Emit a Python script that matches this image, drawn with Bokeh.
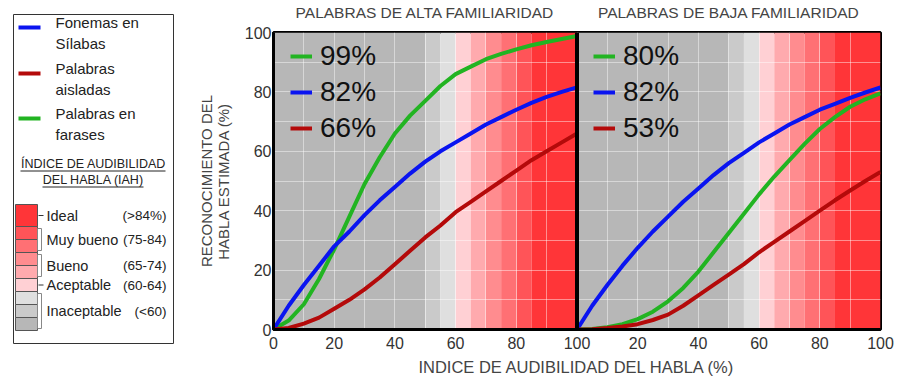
import numpy as np
from bokeh.plotting import figure
from bokeh.layouts import row
from bokeh.models import (Range1d, FixedTicker, Legend, LegendItem, Span, LinearAxis,
                          ColumnDataSource)
from bokeh.core.properties import value
from bokeh.embed import file_html
from bokeh.resources import INLINE

FONT = "Liberation Sans"

# ---------------- data ----------------
iah = [0, 5, 10, 15, 20, 25, 30, 35, 40, 45, 50, 55, 60, 65, 70, 75, 80, 85, 90, 95, 100]

# Palabras de alta familiaridad
alta_frases = [0, 3, 8.5, 17, 27, 38, 49, 58, 66, 72, 77, 82, 86, 88.5, 91, 92.8, 94.3, 95.7, 96.8, 97.8, 98.8]
alta_fonemas = [0, 8, 15, 21.5, 28, 33, 38.5, 43.5, 48, 52.5, 56.5, 60, 63, 66, 69, 71.5, 74, 76.3, 78.3, 80, 81.5]
alta_aisladas = [0, 0.5, 2, 4, 7, 10, 13.5, 17.5, 22, 26.5, 31, 35, 39.5, 43, 46.5, 50, 53.5, 57, 60, 63, 66]

# Palabras de baja familiaridad
baja_frases = [0, 0.2, 0.8, 1.8, 3.5, 6, 9.5, 14, 19.5, 26, 32.5, 39, 45.5, 51.5, 57, 62.5, 67.5, 71.5, 75, 77.5, 79.5]
baja_fonemas = [0, 8, 15, 21.5, 27.5, 33, 38, 43, 47.5, 52, 56, 59.5, 63, 66, 69, 71.5, 74, 76, 78, 79.8, 81.5]
baja_aisladas = [0, 0.1, 0.5, 1, 1.8, 3.2, 5, 8, 11.5, 15, 18.5, 22, 26, 29.5, 33, 36.5, 40, 43.5, 46.8, 50, 53]

# final values shown in each panel (green, blue, red)
alta_final = ["99%", "82%", "66%"]
baja_final = ["80%", "82%", "53%"]

panel_titles = ["PALABRAS DE ALTA FAMILIARIDAD", "PALABRAS DE BAJA FAMILIARIDAD"]

series_labels = [["Fonemas en", "Sílabas"], ["Palabras", "aisladas"], ["Palabras en", "farases"]]
series_colors = ["#0a14f0", "#b40a0a", "#22b422"]   # fonemas, aisladas, frases

band_edges = [0, 50, 55, 60, 65, 70, 75, 80, 85, 100]
band_colors = ["#b7b7b7", "#cacaca", "#dfdfdf", "#ffd0d4", "#ffaaae", "#ff8c8f",
               "#ff7074", "#ff5458", "#ff3538"]

iah_title = ["ÍNDICE DE AUDIBILIDAD", "DEL HABLA (IAH)"]
# categories from bottom to top, with number of bands each covers
iah_names = ["Inaceptable", "Aceptable", "Bueno", "Muy bueno", "Ideal"]
iah_ranges = ["(<60)", "(60-64)", "(65-74)", "(75-84)", "(>84%)"]
iah_band_count = [3, 1, 2, 2, 1]

x_ticks = [0, 20, 40, 60, 80, 100]
y_ticks = [0, 20, 40, 60, 80, 100]
grid_step = 10

x_label = "INDICE DE AUDIBILIDAD DEL HABLA (%)"
y_label = "RECONOCIMIENTO DEL\nHABLA ESTIMADA (%)"

# ---------------- layout geometry (pixels) ----------------
W, H = 900, 384
LW = 180                             # width of the side legend figure
FL, FR, FT, FB = 273, 880, 31, 328   # frame edges in page pixels

# ---------------- main figure (both panels) ----------------
p = figure(frame_width=FR - FL, frame_height=FB - FT,
           x_range=Range1d(0, 200), y_range=Range1d(0, 100),
           output_backend="svg", toolbar_location=None,
           min_border_left=FL - LW, min_border_right=W - FR, min_border_top=FT,
           min_border_bottom=H - FB)
p.title = None
p.background_fill_color = "white"

offsets = [0, 100]
edges = np.array(band_edges, dtype=float)
for off in offsets:
    p.quad(left=edges[:-1] + off, right=edges[1:] + off, bottom=0, top=100,
           fill_color=band_colors, line_color=None, level="image")

p.xgrid.ticker = FixedTicker(ticks=list(np.arange(0, 201, grid_step)))
p.ygrid.ticker = FixedTicker(ticks=list(np.arange(0, 101, grid_step)))
p.grid.grid_line_color = "white"
p.grid.grid_line_alpha = 0.45
p.grid.grid_line_width = 1

xt = x_ticks + [t + 100 for t in x_ticks[1:]]
p.xaxis.ticker = FixedTicker(ticks=xt)
overrides = {t: str(t) for t in x_ticks}
overrides.update({t + 100: str(t) for t in x_ticks[1:]})
p.xaxis.major_label_overrides = overrides
p.yaxis.ticker = FixedTicker(ticks=y_ticks)

for ax in (p.xaxis[0], p.yaxis[0]):
    ax.axis_line_width = 3
    ax.axis_line_color = "black"
    ax.major_tick_line_color = None
    ax.minor_tick_line_color = None
    ax.major_tick_out = 0
    ax.major_tick_in = 0
    ax.minor_tick_out = 0
    ax.minor_tick_in = 0
    ax.major_label_text_font = FONT
    ax.major_label_text_font_size = "16px"
    ax.major_label_text_color = "#333333"
    ax.axis_label_text_font = FONT
    ax.axis_label_text_font_style = "normal"
    ax.axis_label_text_color = "#444444"
p.xaxis.major_label_standoff = 7
p.xaxis.axis_label = x_label
p.xaxis.axis_label_text_font_size = "16.5px"
p.xaxis.axis_label_standoff = 6
p.yaxis.major_label_standoff = 2
p.yaxis.axis_label = y_label
p.yaxis.axis_label_text_font_size = "15px"
p.yaxis.axis_label_text_line_height = 1.0
p.yaxis.axis_label_standoff = 10

# panel titles as an axis above the frame, one label per panel centre
title_axis = LinearAxis(ticker=FixedTicker(ticks=[50 + o for o in offsets]),
                        major_label_overrides={50 + o: t for o, t in zip(offsets, panel_titles)},
                        axis_line_color=None, major_tick_line_color=None,
                        minor_tick_line_color=None, major_tick_out=0, major_tick_in=0,
                        minor_tick_out=0, minor_tick_in=0, major_label_standoff=12,
                        major_label_text_font=FONT, major_label_text_font_size="15.5px",
                        major_label_text_color="#444444")
p.add_layout(title_axis, "above")

p.outline_line_color = "black"
p.outline_line_width = 3
p.outline_line_alpha = 1

p.add_layout(Span(location=100, dimension="height", line_color="black", line_width=4))

panels = [
    (0, [alta_frases, alta_fonemas, alta_aisladas], alta_final, 17),
    (100, [baja_frases, baja_fonemas, baja_aisladas], baja_final, 320),
]
color_order = [series_colors[2], series_colors[0], series_colors[1]]
x_arr = np.array(iah, dtype=float)
for off, series, finals, lx in panels:
    rs = []
    for vals, col in zip(series, color_order):
        rs.append(p.line(x_arr + off, vals, line_color=col, line_width=4))
    lg = Legend(items=[LegendItem(label=f, renderers=[r]) for f, r in zip(finals, rs)],
                location=(lx, 185), label_text_font=FONT, label_text_font_size="28px",
                label_text_color="#111111", glyph_width=22, glyph_height=30, label_height=30,
                label_standoff=8, spacing=4, padding=0, margin=0,
                background_fill_alpha=0, border_line_alpha=0)
    p.add_layout(lg)

# ---------------- side legend figure (pixel coordinates, y downwards) ----------------
lf = figure(frame_width=LW, frame_height=H, x_range=Range1d(0, LW), y_range=Range1d(H, 0),
            output_backend="svg", toolbar_location=None, min_border=0,
            x_axis_type=None, y_axis_type=None)
lf.title = None
lf.grid.visible = False
lf.outline_line_color = None

for fig in (p, lf):
    if "frame_align" in fig.properties():
        fig.frame_align = False

lf.quad(left=[13], right=[173], top=[14], bottom=[343], fill_color=None,
        line_color="#333333", line_width=1)

sample_y = [27, 73, 118]
lf.segment(x0=[18] * 3, x1=[40] * 3, y0=sample_y, y1=sample_y, line_color=series_colors,
           line_width=4)
tx, ty, tt = [], [], []
for lines, sy in zip(series_labels, sample_y):
    for j, s in enumerate(lines):
        tx.append(55)
        ty.append(sy - 5 + 21 * j)
        tt.append(s)
lf.text(x="x", y="y", text="text", source=ColumnDataSource(dict(x=tx, y=ty, text=tt)),
        text_font=value(FONT), text_font_size="15px", text_color="#222222",
        text_baseline="middle", text_align="left")

lf.text(x=[93, 93], y=[163, 179], text=iah_title, text_font=value(FONT),
        text_font_size="12.5px", text_color="#222222", text_baseline="middle",
        text_align="center")
lf.segment(x0=[20, 42], x1=[165, 143], y0=[170.5, 186.5], y1=[170.5, 186.5],
           line_color="#222222", line_width=1)

scale_bottom = 330
heights = [13] * (len(band_colors) - 1) + [22]
tops, bottoms = [], []
cur = scale_bottom
for h in heights:
    bottoms.append(cur)
    tops.append(cur - h)
    cur -= h
lf.quad(left=15, right=37, top=tops, bottom=bottoms, fill_color=band_colors,
        line_color="#555555", line_width=1)

name_y, br_top, br_bot, single = [], [], [], []
k = 0
for n in iah_band_count:
    bot = bottoms[k]
    top = tops[k + n - 1]
    name_y.append((bot + top) / 2)
    if n > 1:
        br_top.append(top + 2)
        br_bot.append(bot - 2)
    else:
        single.append((bot + top) / 2)
    k += n
lf.quad(left=37, right=41, top=br_top, bottom=br_bot, fill_color=None,
        line_color="#888888", line_width=1)
lf.segment(x0=[38] * len(single), x1=[43] * len(single), y0=single, y1=single,
           line_color="#333333", line_width=1)
lf.text(x=[46] * len(iah_names), y=name_y, text=iah_names, text_font=value(FONT),
        text_font_size="14.5px", text_color="#222222", text_baseline="middle",
        text_align="left")
lf.text(x=[166] * len(iah_ranges), y=name_y, text=iah_ranges, text_font=value(FONT),
        text_font_size="13.5px", text_color="#222222", text_baseline="middle",
        text_align="right")

layout = row(lf, p)
open("out.html", "w").write(file_html(layout, INLINE))
